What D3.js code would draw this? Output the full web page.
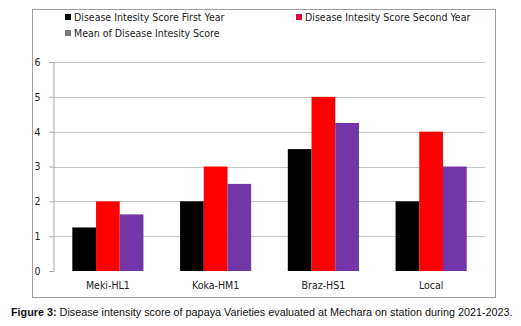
<!DOCTYPE html>
<html>
<head>
<meta charset="utf-8">
<script src="https://cdn.jsdelivr.net/npm/d3@7"></script>
<style>
  body { margin: 0; background: #fff; }
  svg { display: block; }
</style>
</head>
<body>
<div id="chart"></div>
<script>
// data
let varieties = ["Meki-HL1", "Koka-HM1", "Braz-HS1", "Local"]
let seriesNames = ["Disease Intesity Score First Year", "Disease Intesity Score Second Year", "Mean of Disease Intesity Score"]
let firstYear = [1.25, 2, 3.5, 2]
let secondYear = [2, 3, 5, 4]
let meanScore = [1.625, 2.5, 4.25, 3]
let yTicks = [0, 1, 2, 3, 4, 5, 6]

let colors = ["#000000", "#ff0000", "#7336a8"]
let legendColors = ["#000000", "#e8003a", "#7a7a7a"]
let font = "DejaVu Sans Condensed, DejaVu Sans, sans-serif"

let width = 521, height = 326
let svg = d3.select("#chart").append("svg")
    .attr("width", width)
    .attr("height", height)

// outer frame
svg.append("rect")
    .attr("x", 32.5).attr("y", 9.5)
    .attr("width", 463).attr("height", 288)
    .attr("fill", "none")
    .attr("stroke", "#a0a0a0")

let plot = { left: 54, right: 485, top: 62, bottom: 271 }

let xScale = d3.scaleBand()
    .domain(varieties)
    .range([plot.left, plot.right])
    .paddingInner(0.34)
    .paddingOuter(0.17)

let xInner = d3.scaleBand()
    .domain([0, 1, 2])
    .range([0, xScale.bandwidth()])

let yScale = d3.scaleLinear()
    .domain([0, 6])
    .range([plot.bottom, plot.top])

// gridlines
svg.append("g")
    .selectAll("line")
    .data(yTicks.filter(d => d > 0))
    .enter()
    .append("line")
    .attr("x1", plot.left)
    .attr("x2", plot.right)
    .attr("y1", d => Math.round(yScale(d)) + 0.5)
    .attr("y2", d => Math.round(yScale(d)) + 0.5)
    .attr("stroke", "#c4c4c4")

// y axis
let axisY = d3.axisLeft(yScale).tickValues(yTicks).tickFormat(d3.format("d")).tickSize(4).tickPadding(9)
let gy = svg.append("g")
    .attr("transform", "translate(" + (plot.left - 0.5) + ",0)")
    .call(axisY)
gy.select(".domain").attr("stroke", "#a8a8a8")
gy.selectAll(".tick line").attr("stroke", "#a8a8a8")
gy.selectAll("text")
    .style("font-family", font)
    .style("font-size", "10.5px")
    .attr("fill", "#222")

// bars
let series = [firstYear, secondYear, meanScore]
let rows = []
varieties.forEach((v, i) => {
    series.forEach((s, j) => rows.push({ variety: v, k: j, value: s[i] }))
})

svg.append("g")
    .selectAll("rect")
    .data(rows)
    .enter()
    .append("rect")
    .attr("x", d => xScale(d.variety) + xInner(d.k))
    .attr("y", d => yScale(d.value))
    .attr("width", xInner.bandwidth())
    .attr("height", d => yScale(0) - yScale(d.value))
    .attr("fill", d => colors[d.k])

// x labels
svg.append("g")
    .selectAll("text")
    .data(varieties)
    .enter()
    .append("text")
    .attr("x", d => xScale(d) + xScale.bandwidth() / 2)
    .attr("y", 289)
    .attr("text-anchor", "middle")
    .style("font-family", font)
    .style("font-size", "10.5px")
    .attr("fill", "#222")
    .text(d => d)

// legend
let legendPos = [[68, 17], [299, 17], [68, 33]]
let legend = svg.append("g")
seriesNames.forEach((name, i) => {
    let [lx, ly] = legendPos[i]
    legend.append("rect")
        .attr("x", lx - 3).attr("y", ly - 3)
        .attr("width", 6).attr("height", 6)
        .attr("fill", legendColors[i])
    legend.append("text")
        .attr("x", lx + 6)
        .attr("y", ly + 4)
        .style("font-family", font)
        .style("font-size", "10.5px")
        .attr("fill", "#222")
        .text(name)
})

// caption
let cap = svg.append("text")
    .attr("x", 11)
    .attr("y", 316)
    .style("font-family", "Liberation Sans, Arial, sans-serif")
    .style("font-size", "10.8px")
    .attr("fill", "#111")
cap.append("tspan").style("font-weight", "bold").text("Figure 3: ")
cap.append("tspan").text("Disease intensity score of papaya Varieties evaluated at Mechara on station during 2021-2023.")
</script>
</body>
</html>
